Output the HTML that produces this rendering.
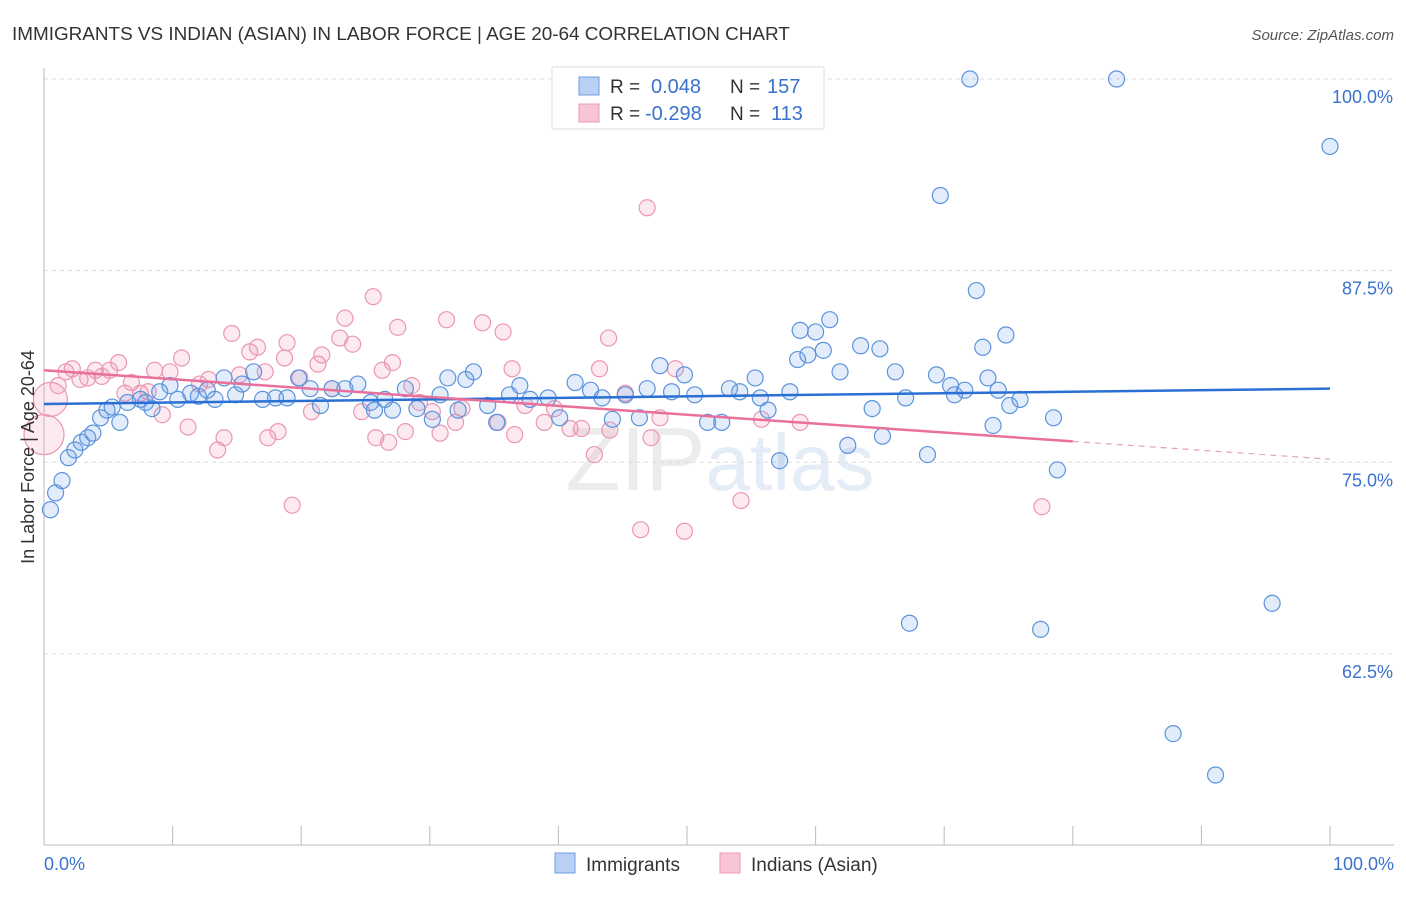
<!DOCTYPE html>
<html><head><meta charset="utf-8"><style>
body{margin:0;background:#fff;font-family:"Liberation Sans",sans-serif;}
svg text{font-family:"Liberation Sans",sans-serif;}
</style></head><body>
<svg id="chart" width="1406" height="892" xmlns="http://www.w3.org/2000/svg">
<text x="12" y="40" font-size="18.9" fill="#333">IMMIGRANTS VS INDIAN (ASIAN) IN LABOR FORCE | AGE 20-64 CORRELATION CHART</text>
<text x="1394" y="40" font-size="15" fill="#555" text-anchor="end" font-style="italic">Source: ZipAtlas.com</text>
<text x="720" y="490" font-size="90" fill="#ececec" text-anchor="middle" font-family="Liberation Serif">ZIP<tspan fill="#e3ecf7" font-family="Liberation Sans" font-size="80">atlas</tspan></text>
<g id="grid"></g>
<g id="axes"></g>
<g id="pts"></g>
<g id="trends"></g>
<text transform="translate(34,457) rotate(-90)" font-size="18" fill="#333" text-anchor="middle">In Labor Force | Age 20-64</text>
<g>
<rect x="552" y="67" width="272" height="62" fill="#fff" stroke="#ddd"/>
<rect x="579" y="77" width="20" height="18" fill="#b8d0f2" stroke="#6d9de0"/>
<rect x="579" y="104" width="20" height="18" fill="#f8c5d4" stroke="#ec9ab4"/>
<text x="610" y="93" font-size="19" fill="#333">R =</text>
<text x="651" y="93" font-size="20" fill="#3a72cc">0.048</text>
<text x="730" y="93" font-size="19" fill="#333">N =</text>
<text x="767" y="93" font-size="20" fill="#3a72cc">157</text>
<text x="610" y="120" font-size="19" fill="#333">R =</text>
<text x="645" y="120" font-size="20" fill="#3a72cc">-0.298</text>
<text x="730" y="120" font-size="19" fill="#333">N =</text>
<text x="771" y="120" font-size="20" fill="#3a72cc">113</text>
</g>
<g>
<rect x="555" y="853" width="20" height="20" fill="#b8d0f2" stroke="#6d9de0"/>
<text x="586" y="871" font-size="19" fill="#333">Immigrants</text>
<rect x="720" y="853" width="20" height="20" fill="#f8c5d4" stroke="#ec9ab4"/>
<text x="751" y="871" font-size="19" fill="#333">Indians (Asian)</text>
</g>
</svg>
<script>
const blueX=[0.5,0.9,1.4,1.9,2.4,2.9,3.4,3.8,4.4,4.9,5.3,5.9,6.5,7.5,7.9,8.4,9.0,9.8,10.4,11.4,12.0,12.7,13.3,14.0,14.9,15.4,16.3,17.0,18.0,18.9,19.8,20.7,21.5,22.4,23.4,24.4,25.4,25.7,26.5,27.1,28.1,29.0,30.2,30.8,31.4,32.2,32.8,33.4,34.5,35.2,36.2,37.0,37.8,39.2,40.1,41.3,42.5,43.4,44.2,45.2,46.3,46.9,47.9,48.8,49.8,50.6,51.6,52.7,53.3,54.1,55.3,55.7,56.3,57.2,58.0,58.6,58.8,59.4,60.0,60.6,61.1,61.9,62.5,63.5,64.4,65.0,65.2,66.2,67.0,67.3,68.7,69.4,69.7,70.5,70.8,71.6,72.0,72.5,73.0,73.4,73.8,74.2,74.8,75.1,75.9,77.5,78.5,78.8,83.4,87.8,91.1,95.5,100];
const blueY=[71.9,73.0,73.8,75.3,75.8,76.3,76.6,76.9,77.9,78.4,78.6,77.6,78.9,79.1,78.9,78.5,79.6,80.0,79.1,79.5,79.3,79.7,79.1,80.5,79.4,80.1,80.9,79.1,79.2,79.2,80.5,79.8,78.7,79.8,79.8,80.1,78.9,78.4,79.1,78.4,79.8,78.5,77.8,79.4,80.5,78.4,80.4,80.9,78.7,77.6,79.4,80.0,79.1,79.2,77.9,80.2,79.7,79.2,77.8,79.4,77.9,79.8,81.3,79.6,80.7,79.4,77.6,77.6,79.8,79.6,80.5,79.2,78.4,75.1,79.6,81.7,83.6,82.0,83.5,82.3,84.3,80.9,76.1,82.6,78.5,82.4,76.7,80.9,79.2,64.5,75.5,80.7,92.4,80.0,79.4,79.7,100,86.2,82.5,80.5,77.4,79.7,83.3,78.7,79.1,64.1,77.9,74.5,100,57.3,54.6,65.8,95.6];
const pinkX=[0,0.5,1.1,1.7,2.2,2.8,3.4,4.0,4.5,5.1,5.8,6.3,6.8,7.5,8.1,8.6,9.2,9.8,10.7,11.2,12.1,12.8,13.5,14.0,14.6,15.2,16.0,16.6,17.2,17.4,18.2,18.7,18.9,19.3,19.9,20.8,21.3,21.6,22.4,23.0,23.4,24.0,24.7,25.6,25.8,26.3,26.8,27.1,27.5,28.1,28.6,29.2,30.2,30.8,31.3,32.0,32.5,34.1,35.3,35.7,36.4,36.6,37.4,38.9,39.7,40.9,41.8,42.8,43.2,43.9,44.0,45.2,46.4,46.9,47.2,47.9,49.1,49.8,54.2,55.8,58.8,77.6];
const pinkY=[76.8,79.1,80.0,80.9,81.1,80.4,80.5,81.0,80.6,81.0,81.5,79.5,80.2,79.5,79.6,81.0,78.1,80.9,81.8,77.3,80.1,80.4,75.8,76.6,83.4,80.7,82.2,82.5,80.9,76.6,77.0,81.8,82.8,72.2,80.5,78.3,81.4,82.0,79.8,83.1,84.4,82.7,78.3,85.8,76.6,81.0,76.3,81.5,83.8,77.0,80.0,78.9,78.3,76.9,84.3,77.6,78.5,84.1,77.6,83.5,81.1,76.8,78.7,77.6,78.5,77.2,77.2,75.5,81.1,83.1,77.1,79.5,70.6,91.6,76.6,77.9,81.1,70.5,72.5,77.8,77.6,72.1];
const blueTrend=[78.8,79.8];
const pinkTrend=[81.0,75.2];
const pinkSolidEnd=80;
const xTicks=[0,10,20,30,40,50,60,70,80,90,100];
const yTicks=[62.5,75,87.5,100];
const yTickLabels=["62.5%","75.0%","87.5%","100.0%"];
const NS="http://www.w3.org/2000/svg";
const X=v=>44+v*12.86, Y=v=>79+(100-v)*15.33;
function mk(tag,attrs,parent){const e=document.createElementNS(NS,tag);for(const k in attrs)e.setAttribute(k,attrs[k]);document.getElementById(parent).appendChild(e);return e;}
yTicks.forEach((t,i)=>{
 const g=mk('line',{x1:44,x2:1394,y1:Y(t),y2:Y(t),stroke:'#ddd','stroke-dasharray':'4,4'},'grid');
 
 
 const tx=mk('text',{x:1393,y:Y(t)+24,'font-size':18,fill:'#3a72cc','text-anchor':'end'},'grid');
 tx.textContent=yTickLabels[i];
 
 
});
const xa=mk('line',{x1:44,x2:1394,y1:845,y2:845,stroke:'#bbb'},'axes');


const ya=mk('line',{x1:44,x2:44,y1:68,y2:845,stroke:'#bbb'},'axes');


xTicks.forEach(t=>{const l=mk('line',{x1:X(t),x2:X(t),y1:826,y2:845,stroke:'#bbb'},'axes');
 
 });
[[0,'0.0%','start',44],[100,'100.0%','end',1394]].forEach(a=>{const t=mk('text',{x:a[3],y:870,'font-size':18,fill:'#3a72cc','text-anchor':a[2]},'axes');t.textContent=a[1];
 
 });
pinkX.forEach((x,i)=>{const r=i==0?20:(i==1?17:8);const c=mk('circle',{cx:X(x),cy:Y(pinkY[i]),r:r,fill:'rgba(242,150,180,0.2)',stroke:'#eb97b2','stroke-width':1.2},'pts');
 
 });
blueX.forEach((x,i)=>{const c=mk('circle',{cx:X(x),cy:Y(blueY[i]),r:8,fill:'rgba(110,160,230,0.2)',stroke:'#5b93dd','stroke-width':1.2},'pts');
 
 });
const bt=mk('line',{x1:X(0),y1:Y(blueTrend[0]),x2:X(100),y2:Y(blueTrend[1]),stroke:'#2a6fd4','stroke-width':2.5},'trends');


const pm=pinkTrend[0]+(pinkTrend[1]-pinkTrend[0])*pinkSolidEnd/100;
const pt=mk('line',{x1:X(0),y1:Y(pinkTrend[0]),x2:X(pinkSolidEnd),y2:Y(pm),stroke:'#e8709a','stroke-width':2.5},'trends');


const pd=mk('line',{x1:X(pinkSolidEnd),y1:Y(pm),x2:X(100),y2:Y(pinkTrend[1]),stroke:'#e8a0b8','stroke-width':1.2,'stroke-dasharray':'6,5'},'trends');


</script>
</body></html>
